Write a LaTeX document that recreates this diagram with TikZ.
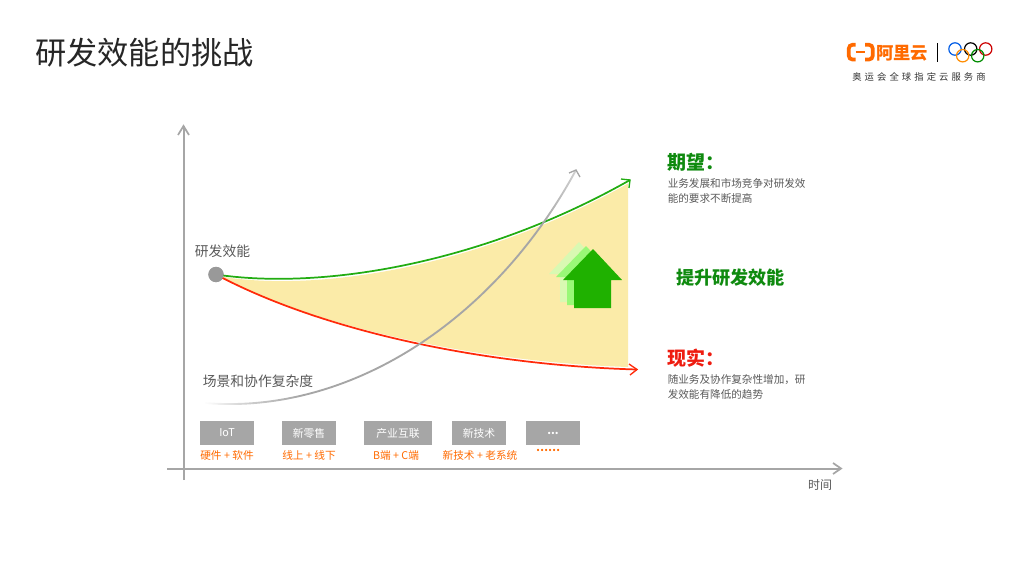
\documentclass[tikz,border=0pt]{standalone}
\usepackage{fontspec}
\setmainfont{Noto Sans CJK SC}
\usetikzlibrary{fadings}
\newfontfamily\cjkspaced[LetterSpace=33]{Noto Sans CJK SC}
\definecolor{axisgrey}{HTML}{A6A6A6}
\definecolor{txtgrey}{HTML}{595959}
\definecolor{fillyellow}{HTML}{FBEBA8}
\definecolor{greenline}{HTML}{22AC12}
\definecolor{redline}{HTML}{FF2A0A}
\definecolor{headgreen}{HTML}{0F8A0F}
\definecolor{headred}{HTML}{EE1C10}
\definecolor{orangetxt}{HTML}{FF6A00}
\definecolor{arrowA}{HTML}{1FB100}
\definecolor{arrowB}{HTML}{99F877}
\definecolor{arrowC}{HTML}{D9F9B2}
\pgfdeclarehorizontalshading{fadeendsshade}{100bp}{
  color(0bp)=(pgftransparent!100); color(25bp)=(pgftransparent!100);
  color(31bp)=(pgftransparent!45); color(38bp)=(pgftransparent!0);
  color(70bp)=(pgftransparent!0); color(75bp)=(pgftransparent!50);
  color(100bp)=(pgftransparent!50)}
\pgfdeclarefading{fadeends}{\pgfuseshading{fadeendsshade}}
\tikzset{
  fs/.style={font=\fontsize{#1}{#1}\selectfont},
  lbl/.style={inner sep=0pt, text=txtgrey},
  note/.style={lbl, anchor=west, fs=7.95pt},
  catbox/.style={fill=axisgrey, text=white, inner sep=0pt, minimum height=18pt, fs=8.1pt},
  catlbl/.style={inner sep=0pt, text=orangetxt, fs=8pt},
  axisline/.style={draw=axisgrey, line width=1.5pt},
  chev/.style={line width=1pt, line join=miter},
  ring/.style={line width=0.9pt},
}
\begin{document}
\begin{tikzpicture}[x=0.75pt,y=-0.75pt]
\useasboundingbox (0,0) rectangle (1024,576);
% title
\node[anchor=west, inner sep=0pt, text=black!85, fs=23.4pt] (title) at (35,53) {研发效能的挑战};
% logo
\draw[orangetxt, line width=2.8pt, rounded corners=3pt] (855.5,44.7) -- (848.7,44.7) -- (848.7,59.6) -- (855.5,59.6);
\draw[orangetxt, line width=2.8pt, rounded corners=3pt] (865,44.7) -- (872.8,44.7) -- (872.8,59.6) -- (865,59.6);
\draw[orangetxt, line width=1.5pt] (855.5,52.3) -- (865,52.3);
\node[anchor=west, inner sep=0pt, text=orangetxt, fs=13pt] (ali) at (876,53) {\textbf{阿里云}};
\draw[black, line width=0.7pt] (937.5,43) -- (937.5,62);
\draw[ring, draw=blue!60!cyan!90!black] (955,49) circle (6.2);
\draw[ring, draw=black] (970.7,49) circle (6.2);
\draw[ring, draw=red!80!black] (985.7,49) circle (6.2);
\draw[ring, draw=orange!90!yellow] (962.7,55.7) circle (6.2);
\draw[ring, draw=green!55!black] (977.7,55.7) circle (6.2);
\node[inner sep=0pt, text=black!80, anchor=west, fs=7pt] (logotxt) at (852,76.5) {\cjkspaced 奥运会全球指定云服务商};
% fill
\fill[fillyellow] (224,277) .. controls (320,292) and (480,267) .. (628,183.5) -- (628,367) .. controls (480,362) and (320,328) .. (224,279) -- cycle;
% axes
\coordinate (o1) at (183.5,480); \coordinate (yt) at (183.5,126);
\coordinate (o2) at (167,468.5); \coordinate (xt) at (841,468.5);
\draw[axisline] (o1) -- (yt);
\draw[axisline] (o2) -- (xt);
\draw[axisgrey, chev, line width=1.3pt] (178,135) -- (yt) -- (189,135);
\draw[axisgrey, chev, line width=1.3pt] (833,463) -- (xt) -- (833,474);
% dot
\node[circle, fill=black!40, inner sep=0pt, minimum size=11.5pt] (dot) at (216,274.5) {};
% curves
\coordinate (gend) at (630,180); \coordinate (rend) at (637,369.5);
\coordinate (cstart) at (205,403); \coordinate (cend) at (576,170);
\draw[greenline, line width=1.3pt] (dot.center) .. controls (320,290) and (480,265) .. (gend);
\draw[greenline, chev] (621,179) -- (gend) -- (629,188);
\draw[redline, line width=1.3pt] (dot.center) .. controls (320,330) and (480,365) .. (rend);
\draw[redline, chev] (629,364) -- (rend) -- (630,375);
\draw[axisgrey, line width=1.4pt, path fading=fadeends] (cstart) .. controls (350,415) and (495,320) .. (cend);
\draw[axisgrey, chev] (569,173) -- (cend) -- (580,177);
\fill[black!40] (dot.center) circle (7.6);
% big arrows
\fill[arrowC] (579,242) -- (549,274) -- (560,274) -- (560,302) -- (597,302) -- (597,274) -- (608,274) -- cycle;
\fill[arrowB] (586,246) -- (556,277) -- (567,277) -- (567,305) -- (604,305) -- (604,277) -- (615,277) -- cycle;
\fill[arrowA] (593,249) -- (563,280) -- (574,280) -- (574,308) -- (611,308) -- (611,280) -- (622,280) -- cycle;
% labels
\node[lbl, fs=10.35pt] (yl) at (222.5,251) {研发效能};
\node[lbl, fs=10.35pt] (cl) at (258,381) {场景和协作复杂度};
\node[lbl, fs=9pt] (tl) at (820,485) {时间};
\node[anchor=west, inner sep=0pt, text=headgreen, fs=14.25pt] (h1) at (667,162) {\textbf{期望：}};
\node[note] (n1a) at (667.5,183) {业务发展和市场竞争对研发效};
\node[note] (n1b) at (667.5,198) {能的要求不断提高};
\node[inner sep=0pt, text=headgreen, fs=13.6pt] (mid) at (730.5,278) {\textbf{提升研发效能}};
\node[anchor=west, inner sep=0pt, text=headred, fs=14.25pt] (h2) at (667,358) {\textbf{现实：}};
\node[note] (n2a) at (667.5,379.5) {随业务及协作复杂性增加，研};
\node[note] (n2b) at (667.5,394.5) {发效能有降低的趋势};
% boxes
\node[catbox, minimum width=40.5pt] (b1) at (227,433) {IoT};
\node[catbox, minimum width=40.5pt] (b2) at (309,433) {新零售};
\node[catbox, minimum width=51pt] (b3) at (398,433) {产业互联};
\node[catbox, minimum width=40.5pt] (b4) at (479,433) {新技术};
\node[catbox, minimum width=40.5pt] (b5) at (553,433) {\textbf{...}};
\node[catlbl] (l1) at (227,455) {硬件 + 软件};
\node[catlbl] (l2) at (309,455) {线上 + 线下};
\node[catlbl] (l3) at (396,455) {B端 + C端};
\node[catlbl] (l4) at (480,455) {新技术 + 老系统};
\node[catlbl] (l5) at (548,450) {\textbf{……}};
\end{tikzpicture}
\end{document}
